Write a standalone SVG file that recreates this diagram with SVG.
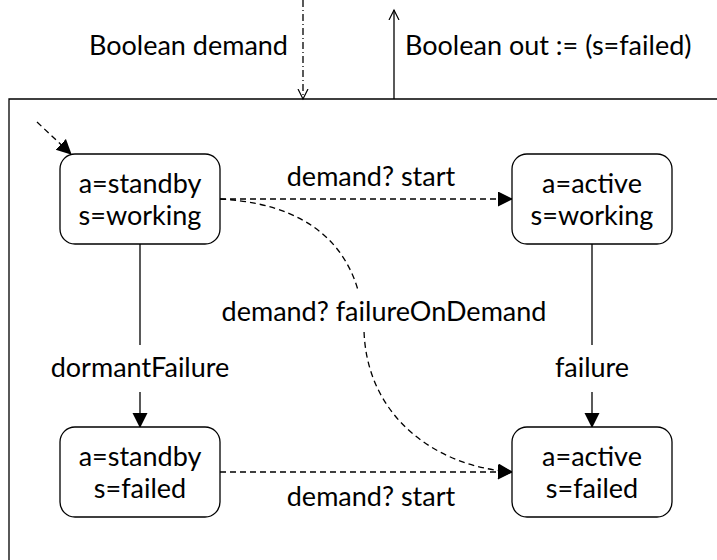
<svg xmlns="http://www.w3.org/2000/svg" width="717" height="560" viewBox="0 0 717 560">
<style>
text{font-family:Lato,"Open Sans","Liberation Sans",sans-serif;font-size:27px;fill:#000;text-anchor:middle}
.st{fill:#fff;stroke:#000;stroke-width:1.3}
.ln{fill:none;stroke:#000;stroke-width:1.3}
.d{stroke-dasharray:6,4}
.lb{fill:#fff;stroke:none}
</style>
<defs>
<marker id="fa" markerWidth="15" markerHeight="16" refX="14" refY="7.5" orient="auto" markerUnits="userSpaceOnUse"><path d="M0,0 L15,7.5 L0,15 Z" fill="#000"/></marker>
<marker id="oa" markerWidth="12" markerHeight="14" refX="10" refY="6" orient="auto" markerUnits="userSpaceOnUse"><path d="M0,1 L10,6 L0,11" fill="none" stroke="#000" stroke-width="1.2"/></marker>
</defs>
<rect width="717" height="560" fill="#fff"/>
<g id="frame"><path class="ln" d="M9,560 L9,99 L717,99"/></g>
<g id="ports">
<text x="288" y="55" style="text-anchor:end">Boolean demand</text>
<text x="405" y="55" style="text-anchor:start">Boolean out := (s=failed)</text>
</g>
<g id="connectors">
<path class="ln" d="M303,0 L303,99" stroke-dasharray="7,3,1,3" marker-end="url(#oa)"/>
<path class="ln" d="M394,99 L394,10" marker-end="url(#oa)"/>
<path class="ln d" d="M37,122 L71,154" marker-end="url(#fa)"/>
<path class="ln d" d="M220,199 L512,199" marker-end="url(#fa)"/>
<path class="ln d" d="M220,199 C330,205 362,268 364,330 C366,412 430,466 512,472" marker-end="url(#fa)"/>
<path class="ln d" d="M220,472 L512,472" marker-end="url(#fa)"/>
<path class="ln" d="M140,244 L140,427" marker-end="url(#fa)"/>
<path class="ln" d="M592,244 L592,427" marker-end="url(#fa)"/>
<rect class="lb" x="218" y="292" width="332" height="40"/>
<rect class="lb" x="68" y="345" width="144" height="47"/>
<rect class="lb" x="545" y="345" width="94" height="47"/>
<text x="371" y="186">demand? start</text>
<text x="384" y="321">demand? failureOnDemand</text>
<text x="140" y="377">dormantFailure</text>
<text x="592" y="377">failure</text>
<text x="371" y="506">demand? start</text>
</g>
<g id="n1"><rect class="st" x="60" y="154" width="160" height="90" rx="15"/><text x="140" y="193">a=standby</text><text x="140" y="225">s=working</text></g>
<g id="n2"><rect class="st" x="512" y="154" width="160" height="90" rx="15"/><text x="592" y="193">a=active</text><text x="592" y="225">s=working</text></g>
<g id="n3"><rect class="st" x="60" y="427" width="160" height="90" rx="15"/><text x="140" y="466">a=standby</text><text x="140" y="498">s=failed</text></g>
<g id="n4"><rect class="st" x="512" y="427" width="160" height="90" rx="15"/><text x="592" y="466">a=active</text><text x="592" y="498">s=failed</text></g>
</svg>
